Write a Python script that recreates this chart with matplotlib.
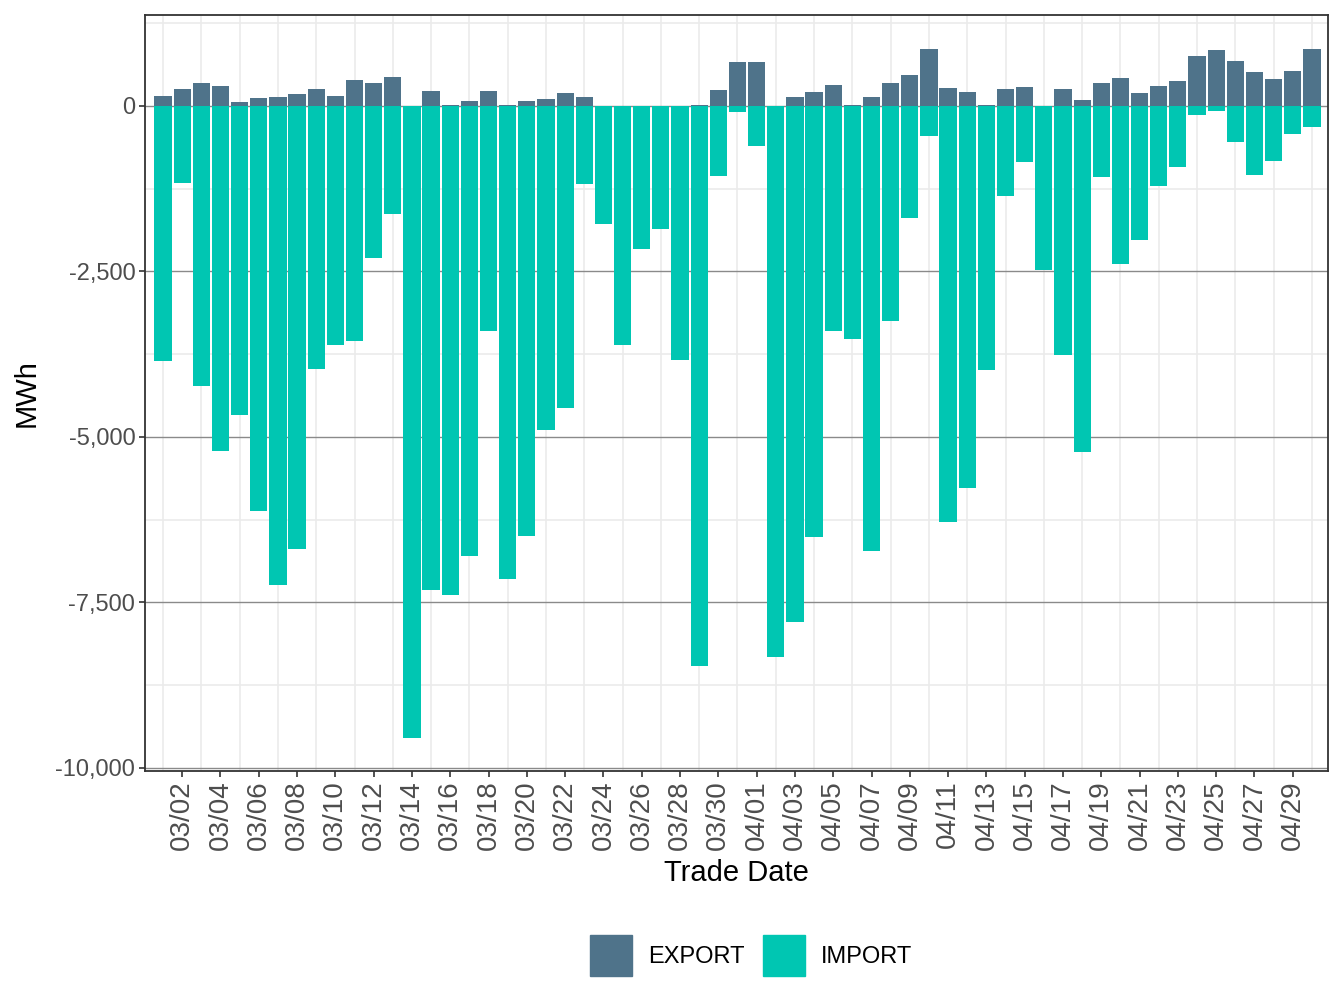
import numpy as np
import pandas as pd
import matplotlib
matplotlib.use("Agg")
from matplotlib import pyplot as plt
from matplotlib.patches import Patch

plt.rcParams['font.family'] = ['Liberation Sans', 'DejaVu Sans']

# Fechas de negociacion (03/01 - 04/30)
fechas = pd.date_range('2024-03-01', '2024-04-30', freq='D')
etiquetas = [f.strftime('%m/%d') for f in fechas]

# Valores en MWh
export_mwh = [146, 251, 342, 297, 55, 116, 131, 176, 251, 146,
              387, 342, 432, 0, 221, 10, 70, 221, 10, 70,
              100, 191, 131, 0, 0, 0, 0, 0, 10, 236,
              659, 659, 0, 131, 206, 312, 10, 131, 342, 462,
              855, 266, 206, 10, 251, 281, 0, 251, 85, 342,
              417, 191, 297, 372, 749, 839, 673, 507, 402, 523,
              855]
import_mwh = [-3855, -1167, -4233, -5214, -4670, -6120, -7238, -6694, -3976, -3613,
              -3553, -2300, -1635, -9543, -7313, -7389, -6800, -3402, -7147, -6498,
              -4897, -4565, -1182, -1786, -3613, -2164, -1862, -3840, -8461, -1062,
              -90, -605, -8320, -7796, -6513, -3402, -3523, -6724, -3251, -1696,
              -457, -6286, -5773, -3991, -1364, -850, -2481, -3765, -5229, -1077,
              -2391, -2028, -1213, -926, -141, -80, -548, -1047, -835, -427,
              -322]

col_export = '#4f738a'
col_import = '#00c6b2'

x = np.arange(len(fechas))

fig = plt.figure(figsize=(13.44, 10.08), dpi=100)
ax = fig.add_axes([0.1079, 0.2351, 0.8802, 0.75])

# lineas de cuadricula
for xv in x[::2]:
    ax.axvline(xv, color='#ebebeb', lw=1.2, zorder=0)
for yv in [1250, -1250, -3750, -6250, -8750]:
    ax.axhline(yv, color='#ebebeb', lw=1.2, zorder=0)
for yv in [0, -2500, -5000, -7500, -10000]:
    ax.axhline(yv, color='#8a8a8a', lw=1.0, zorder=0)

ax.bar(x, export_mwh, width=0.9, color=col_export, zorder=2)
ax.bar(x, import_mwh, width=0.9, color=col_import, zorder=2)

ax.set_xlim(-0.94, 60.84)
ax.set_ylim(-10046, 1370)

ax.set_xticks(x[1::2])
ax.set_xticklabels(etiquetas[1::2], rotation=90, ha='center', va='top')
ax.set_yticks([0, -2500, -5000, -7500, -10000])
ax.set_yticklabels(['0', '-2,500', '-5,000', '-7,500', '-10,000'])
ax.tick_params(axis='both', colors='#333333', labelcolor='#4d4d4d',
               length=4, width=1.2, pad=3)
ax.tick_params(axis='y', labelsize=17)
ax.tick_params(axis='x', labelsize=20)

for s in ax.spines.values():
    s.set_color('#333333')
    s.set_linewidth(1.3)

ax.set_xlabel('Trade Date', fontsize=21, labelpad=6)
ax.set_ylabel('MWh', fontsize=21, labelpad=11)

handles = [Patch(color=col_export, label='EXPORT'), Patch(color=col_import, label='IMPORT')]
fig.legend(handles=handles, loc='center', bbox_to_anchor=(0.559, 0.052), ncol=2,
           frameon=False, fontsize=17, handlelength=1.78, handleheight=2.27,
           handletextpad=0.7, columnspacing=0.75)

fig.savefig('out.png', dpi=100)
